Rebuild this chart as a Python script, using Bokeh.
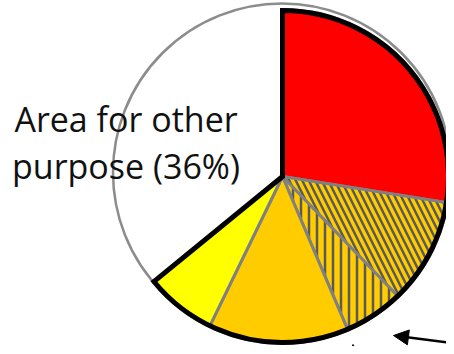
import numpy as np
from bokeh.plotting import figure
from bokeh.models import Range1d, Arrow, NormalHead
from bokeh.core.properties import value
from bokeh.embed import file_html
from bokeh.resources import INLINE

# ---- data (shares in percent, clockwise from 12 o'clock) ----
labels = ["Red area", "Diagonal-hatched area", "Vertical-hatched area",
          "Orange area", "Yellow area", "Area for other purpose"]
shares = [27.5, 10.3, 5.8, 13.6, 6.9, 35.9]
fills = ["#FF0000", "#FFCC00", "#FFCC00", "#FFCC00", "#FFFF00", "#FFFFFF"]
hatches = [" ", "\\", "|", " ", " ", " "]
hatch_scales = [10, 13, 8, 10, 10, 10]
label_lines = ["Area for other", "purpose (36%)"]

W, H = 446, 346
p = figure(width=W, height=H, output_backend="svg", toolbar_location=None,
           x_range=Range1d(0, W), y_range=Range1d(-H, 0),
           min_border=0)
p.axis.visible = False
p.grid.visible = False
p.outline_line_color = None
p.background_fill_color = "white"
p.border_fill_color = "white"

frac = np.array(shares) / np.sum(shares)
cum_end = np.cumsum(frac)
cum_start = cum_end - frac
start_ang = np.pi / 2 - cum_end * 2 * np.pi
end_ang = np.pi / 2 - cum_start * 2 * np.pi

# background circle (white area outline)
p.circle(x=[281.5], y=[-172], radius=169, fill_color="white",
         line_color="#8c8c8c", line_width=2.5)

cx, cy, r = 282, -176, 167
n_col = len(shares) - 1
for i in range(n_col):
    p.wedge(x=[cx], y=[cy], radius=r, start_angle=[start_ang[i]],
            end_angle=[end_ang[i]], direction="anticlock",
            fill_color=fills[i], line_color="#808080", line_width=3,
            hatch_pattern=hatches[i], hatch_color="#595959",
            hatch_weight=2.5, hatch_scale=hatch_scales[i])

# thick black outline around the coloured part
p.wedge(x=[cx], y=[cy], radius=166, start_angle=[start_ang[n_col - 1]],
        end_angle=[end_ang[0]], direction="anticlock",
        fill_alpha=0, line_color="black", line_width=5, line_join="miter")

p.text(x=[125.5, 125.5], y=[-118, -165], text=label_lines,
       text_font=value("Open Sans"), text_font_size="34px",
       text_align="center", text_baseline="alphabetic", text_color="#111111")

p.add_layout(Arrow(end=NormalHead(size=15, fill_color="black", line_color="black"),
                   x_start=470, y_start=-345, x_end=393, y_end=-335,
                   line_color="black", line_width=2.5))
p.add_layout(Arrow(end=NormalHead(size=15, fill_color="black", line_color="black"),
                   x_start=357, y_start=-380, x_end=352.5, y_end=-344,
                   line_color="black", line_width=2.5))

open("out.html", "w").write(file_html(p, INLINE))
